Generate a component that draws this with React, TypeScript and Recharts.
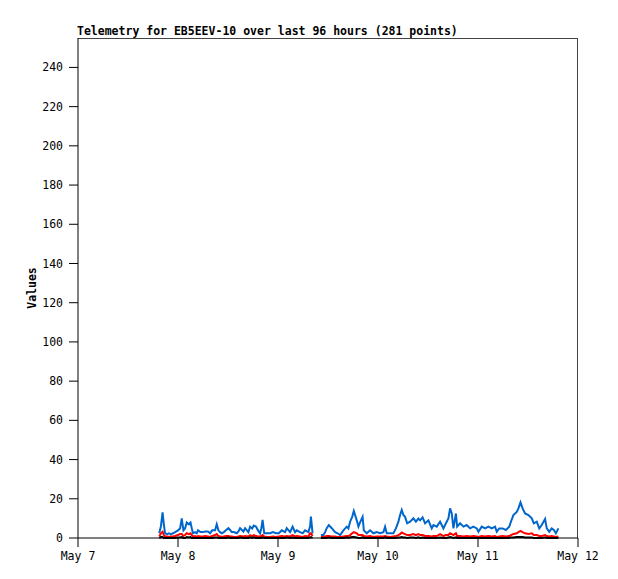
import { LineChart, Line, XAxis, YAxis } from 'recharts';

// hours since May 7 00:00
const hours = [
  19.5, 19.9, 20.3, 20.6, 20.9, 21.4, 21.8, 22.3, 22.8, 23.3, 24.0, 24.5, 24.9, 25.3, 25.7, 26.1, 26.6, 27.0, 27.3, 27.6,
  28.1, 28.5, 28.8, 29.4, 30.0, 30.5, 31.2, 31.7, 32.2, 32.9, 33.3, 33.7, 34.1, 34.5, 35.0, 35.5, 36.1, 36.5, 36.9, 37.4,
  38.1, 38.5, 38.9, 39.7, 40.1, 40.9, 41.3, 41.8, 42.2, 42.7, 43.2, 43.7, 44.0, 44.3, 44.7, 45.4, 46.1, 46.8, 47.5, 48.2,
  48.9, 49.7, 50.1, 50.9, 51.5, 52.1, 52.5, 53.3, 53.9, 54.5, 55.3, 55.7, 55.9, 56.3, 57.2, 58.3, 58.9, 59.3, 59.7, 60.2,
  60.9, 61.7, 62.3, 62.9, 63.7, 64.5, 64.9, 65.3, 65.8, 66.2, 66.9, 67.3, 67.7, 68.3, 68.6, 69.3, 70.1, 70.9, 71.7, 72.5,
  73.3, 73.7, 74.1, 74.9, 75.7, 76.3, 76.9, 77.3, 77.7, 78.1, 78.5, 79.0, 79.7, 80.5, 81.1, 81.7, 82.1, 82.7, 83.3, 84.1,
  84.9, 85.3, 86.1, 86.9, 87.7, 88.3, 88.9, 89.3, 89.7, 90.1, 90.7, 91.0, 91.7, 92.5, 93.3, 94.1, 94.9, 95.7, 96.1, 96.9,
  97.7, 98.5, 99.3, 100.1, 100.5, 101.1, 101.9, 102.7, 103.5, 103.9, 104.5, 105.3, 105.7, 106.2, 106.7, 107.3, 108.1, 108.9, 109.4, 110.1,
  110.7, 111.3, 112.1, 112.5, 113.1, 113.7, 114.2, 114.7, 115.3,
];

const blueValues = [
  2.4, 6, 13.1, 7, 2.4, 2, 2.4, 2, 2.4, 3, 3.9, 4.9, 10, 3.9, 5, 7.9, 7, 7.9, 5, 2.4,
  3, 2.4, 3.9, 3, 3, 3.3, 3.3, 2.4, 3.9, 3.9, 7, 3.9, 3, 2.4, 3, 3.9, 5, 4.1, 3, 3,
  2.4, 3.3, 5, 3.3, 5, 3, 5.8, 4.9, 6.3, 5.8, 3.9, 2.4, 5, 9.2, 2.4, 2.4, 2.4, 3, 2.4, 2.4,
  3.9, 3, 5, 3, 5.8, 3, 3.9, 3, 2.4, 3.9, 3, 6, 10.9, 2.4, null, 1.5, 1.5, 3, 5, 6.6,
  5, 3, 2.4, 1.5, 3.9, 5.8, 4.9, 8.3, 10.8, 13.8, 9, 5.8, 8, 10.8, 3.9, 2.4, 3.9, 2.4, 3, 2.4,
  3, 5.8, 2.4, 2.4, 2.4, 4.9, 8.3, 11.7, 14.3, 11.7, 10.8, 7.5, 8.3, 10, 8.3, 9.9, 9, 10.5, 7.5, 9,
  4.9, 6.6, 5.8, 8.3, 4.9, 7.5, 10, 15.1, 12.5, 4.9, 12.5, 5.8, 7.5, 5.8, 6.6, 4.9, 5.8, 4.9, 3.2, 5.8,
  4.9, 5.8, 4.9, 5.8, 3.2, 4.9, 4.9, 4.1, 5.8, 8.3, 11.7, 13.3, 15.1, 18.2, 15.1, 12.5, 11.7, 10, 7.5, 8.3,
  4.9, 6.6, 9.7, 4.9, 3.2, 4.9, 4.1, 2.4, 4.9,
];

const redValues = [
  0.8, 2.4, 3.2, 1.5, 0.8, 0.8, 0.5, 0.8, 0.8, 1, 1.5, 2, 2, 1, 1.5, 2.4, 2, 2.4, 1.5, 0.8,
  1, 0.5, 1, 0.8, 0.8, 1, 0.8, 0.5, 1, 1.5, 2, 1, 0.8, 0.5, 0.8, 1, 1, 0.8, 0.8, 0.5,
  0.5, 0.8, 1, 0.8, 1, 0.8, 1.5, 1, 1.5, 1, 0.8, 0.8, 1, 1.5, 0.8, 0.5, 0.5, 0.8, 0.5, 0.8,
  1, 0.8, 1, 0.8, 1.5, 0.8, 1, 0.8, 0.5, 1, 0.8, 2.4, 2.4, 1, null, 0.5, 0.5, 0.8, 1, 1,
  0.8, 0.8, 0.5, 0.5, 0.8, 1, 1, 1.5, 2.4, 3, 2.4, 1.5, 1.5, 1.5, 1, 0.8, 1, 0.5, 0.8, 0.8,
  0.8, 1, 0.8, 0.5, 0.8, 1, 1.5, 2, 2.8, 2.4, 2, 1.5, 1.5, 2, 1.5, 2, 1.5, 1.5, 1, 1,
  0.8, 1, 1, 2, 1, 1.5, 1.5, 2.4, 2, 1.5, 2.4, 1, 1, 0.8, 1, 0.8, 1, 0.8, 0.5, 1,
  0.8, 1, 0.8, 1, 0.5, 0.8, 1, 0.8, 1, 1.5, 2, 2.4, 3, 3.6, 3, 2.4, 2, 2.4, 1.5, 1.5,
  1, 1, 1.5, 1, 0.8, 1, 0.8, 0.5, 0.8,
];

const blackValues = [
  0, 0.5, 0.5, 0, 0, 0, 0, 0, 0, 0, 0.3, 0.3, 0.5, 0, 0, 0.5, 0.3, 0.5, 0, 0,
  0, 0, 0, 0, 0, 0, 0, 0, 0, 0.3, 0.3, 0, 0, 0, 0, 0, 0.3, 0, 0, 0,
  0, 0, 0.3, 0, 0, 0, 0.3, 0, 0.3, 0, 0, 0, 0, 0.3, 0, 0, 0, 0, 0, 0,
  0, 0, 0.3, 0, 0.3, 0, 0, 0, 0, 0, 0, 0.3, 0.5, 0, null, 0, 0, 0, 0, 0.3,
  0, 0, 0, 0, 0, 0.3, 0, 0.3, 0.5, 0.5, 0.3, 0, 0, 0.3, 0, 0, 0, 0, 0, 0,
  0, 0.3, 0, 0, 0, 0, 0.3, 0.3, 0.5, 0.3, 0.3, 0, 0.3, 0.3, 0, 0.3, 0, 0.3, 0, 0,
  0, 0, 0, 0.3, 0, 0, 0.3, 0.5, 0.3, 0, 0.3, 0, 0, 0, 0, 0, 0, 0, 0, 0,
  0, 0, 0, 0, 0, 0, 0, 0, 0, 0.3, 0.3, 0.5, 0.5, 0.5, 0.5, 0.3, 0.3, 0.3, 0, 0,
  0, 0, 0.3, 0, 0, 0, 0, 0, 0,
];

const xTicks = [0, 24, 48, 72, 96, 120];
const xTickLabels = ['May 7', 'May 8', 'May 9', 'May 10', 'May 11', 'May 12'];
const yTicks = [0, 20, 40, 60, 80, 100, 120, 140, 160, 180, 200, 220, 240];

const data = hours.map((h, i) => ({
  h,
  blue: blueValues[i],
  red: redValues[i],
  black: blackValues[i],
}));

const font = '"DejaVu Sans Mono", monospace';
const tickStyle = { fill: '#000', fontSize: 11.5, fontFamily: font };

export default function App() {
  return (
    <div style={{ position: 'absolute', left: 0, top: 0, width: 618, height: 579, background: '#fff' }}>
      <div
        style={{
          position: 'absolute',
          left: 77,
          top: 24,
          fontFamily: font,
          fontWeight: 'bold',
          fontSize: 11.5,
          lineHeight: '14px',
          whiteSpace: 'nowrap',
        }}
      >
        Telemetry for EB5EEV-10 over last 96 hours (281 points)
      </div>
      <div
        style={{
          position: 'absolute',
          left: -18,
          top: 281,
          width: 100,
          textAlign: 'center',
          transform: 'rotate(-90deg)',
          fontFamily: font,
          fontWeight: 'bold',
          fontSize: 11.5,
          lineHeight: '14px',
        }}
      >
        Values
      </div>
      {/* plot frame: top and right edges */}
      <div
        style={{
          position: 'absolute',
          left: 78,
          top: 38,
          width: 500,
          height: 500,
          borderTop: '1px solid #444',
          borderRight: '1px solid #444',
          boxSizing: 'border-box',
        }}
      />
      <LineChart width={618} height={579} data={data} margin={{ top: 38, right: 40, left: 0, bottom: 0 }}>
        <XAxis
          dataKey="h"
          type="number"
          domain={[0, 120]}
          ticks={xTicks}
          tickFormatter={(v: number) => xTickLabels[xTicks.indexOf(v)] ?? ''}
          tick={tickStyle}
          tickSize={9}
          tickMargin={5}
          height={41}
          interval={0}
          axisLine={{ stroke: '#000' }}
          tickLine={{ stroke: '#000' }}
        />
        <YAxis
          domain={[0, 255]}
          ticks={yTicks}
          interval={0}
          tick={tickStyle}
          tickSize={9}
          tickMargin={6}
          width={78}
          axisLine={{ stroke: '#000' }}
          tickLine={{ stroke: '#000' }}
        />
        <Line
          type="linear"
          dataKey="blue"
          stroke="#0066cc"
          strokeWidth={2}
          dot={false}
          isAnimationActive={false}
        />
        <Line
          type="linear"
          dataKey="red"
          stroke="#ff0000"
          strokeWidth={2}
          dot={false}
          isAnimationActive={false}
        />
        <Line
          type="linear"
          dataKey="black"
          stroke="#000"
          strokeWidth={2}
          dot={false}
          isAnimationActive={false}
        />
      </LineChart>
    </div>
  );
}
